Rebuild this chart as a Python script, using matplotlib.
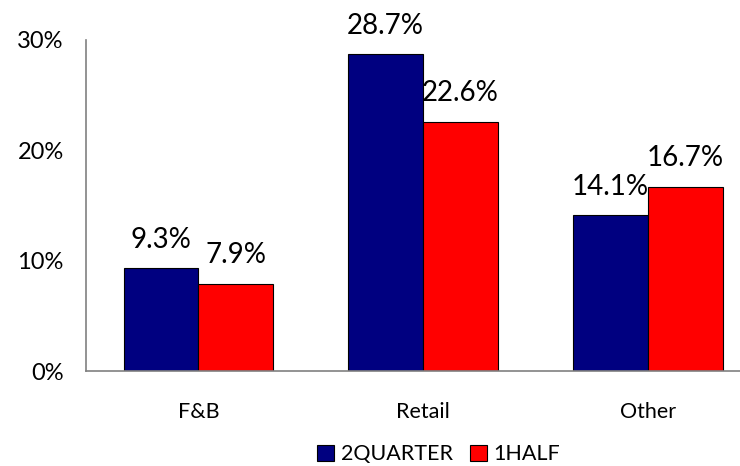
import matplotlib.pyplot as plt
import numpy as np
from matplotlib.ticker import PercentFormatter

categorias = ["F&B", "Retail", "Other"]
serie_2q = [9.3, 28.7, 14.1]
serie_1h = [7.9, 22.6, 16.7]
nombres = ["2QUARTER", "1HALF"]

plt.rcParams['font.family'] = ['Lato', 'DejaVu Sans']

fig = plt.figure(figsize=(7.4, 4.66), dpi=100)
ax = fig.add_axes([86 / 740, 95 / 466, 1 - 86 / 740, 331 / 466])

x = np.arange(len(categorias))
ancho = 0.333

b1 = ax.bar(x - ancho / 2, serie_2q, ancho, color="#000080", edgecolor="black", linewidth=0.8, label=nombres[0])
b2 = ax.bar(x + ancho / 2, serie_1h, ancho, color="#FF0000", edgecolor="black", linewidth=0.8, label=nombres[1])

# etiquetas de valor
for barras, vals in ((b1, serie_2q), (b2, serie_1h)):
    for b, v in zip(barras, vals):
        ax.text(b.get_x() + b.get_width() / 2, v + 1.4, f"{v:.1f}%", ha="center", va="bottom",
                fontsize=20, clip_on=False)

ax.set_xlim(-0.5, 2.41)
ax.set_ylim(0, 30)
ax.set_yticks([0, 10, 20, 30])
ax.yaxis.set_major_formatter(PercentFormatter(decimals=0))
ax.set_xticks(x)
ax.set_xticklabels(categorias)
ax.tick_params(axis="y", length=0, pad=16, labelsize=17)
ax.tick_params(axis="x", length=0, pad=22, labelsize=15.5)

for lado in ("top", "right"):
    ax.spines[lado].set_visible(False)
for lado in ("left", "bottom"):
    ax.spines[lado].set_color("#808080")
    ax.spines[lado].set_linewidth(1.2)

fig.legend(loc="center", bbox_to_anchor=(0.593, 0.025), ncol=2, frameon=False, fontsize=15.5,
           handlelength=0.8, handleheight=0.8, handletextpad=0.3, columnspacing=0.8)

plt.savefig("out.png", dpi=100)
plt.close(fig)
